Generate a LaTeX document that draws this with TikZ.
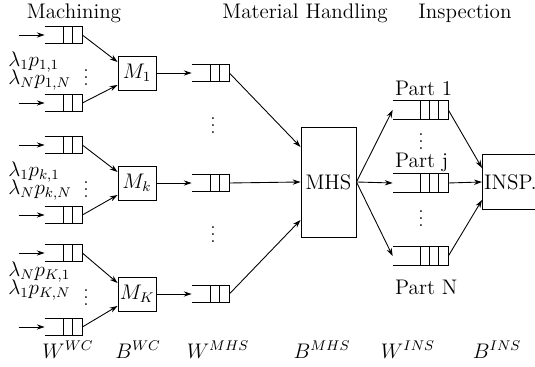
\documentclass[tikz,border=0pt]{standalone}
\usepackage{amsmath,amssymb}
\usetikzlibrary{arrows.meta,positioning}

\begin{document}
\begin{tikzpicture}[every node/.style={font=\large},
  arr/.style={-{Stealth[length=4.5pt,width=3pt]},line width=.5pt},
  queue/.style={inner sep=0pt,minimum width=0.74cm,minimum height=0.32cm},
  queuewide/.style={inner sep=0pt,minimum width=1.10cm,minimum height=0.36cm},
  station/.style={draw,line width=.5pt,inner sep=1pt,minimum width=0.76cm,minimum height=0.68cm},
  dots/.style={font=\normalsize,inner sep=0pt}]
\useasboundingbox (0,0) rectangle (10.70,7.34);
% headers
\node (hmach) at (1.48,7.08) {Machining};
\node (hmhs) at (6.10,7.08) {Material Handling};
\node (hins) at (9.30,7.08) {Inspection};
% machining buffers
\node[queue] (w11) at (1.27,6.64) {};
\node[queue] (w1N) at (1.27,5.28) {};
\node[queue] (wk1) at (1.27,4.44) {};
\node[queue] (wkN) at (1.27,3.04) {};
\node[queue] (wK1) at (1.27,2.28) {};
\node[queue] (wKN) at (1.27,0.80) {};
\node[anchor=west,inner sep=0pt] (l11) at (0.16,6.10) {$\lambda_1 p_{1,1}$};
\node[anchor=west,inner sep=0pt] (l1N) at (0.16,5.74) {$\lambda_N p_{1,N}$};
\node[anchor=west,inner sep=0pt] (lk1) at (0.16,3.90) {$\lambda_1 p_{k,1}$};
\node[anchor=west,inner sep=0pt] (lkN) at (0.16,3.54) {$\lambda_N p_{k,N}$};
\node[anchor=west,inner sep=0pt] (lK1) at (0.16,1.90) {$\lambda_N p_{K,1}$};
\node[anchor=west,inner sep=0pt] (lKN) at (0.16,1.54) {$\lambda_1 p_{K,N}$};
\node[dots] (d1) at (1.72,5.90) {$\vdots$};
\node[dots] (dk) at (1.72,3.66) {$\vdots$};
\node[dots] (dK) at (1.72,1.50) {$\vdots$};
% machines
\node[station] (M1) at (2.74,5.88) {$M_1$};
\node[station] (Mk) at (2.74,3.68) {$M_k$};
\node[station] (MK) at (2.74,1.46) {$M_K$};
% material handling buffers
\node[queue] (m1) at (4.21,5.88) {};
\node[queue] (mk) at (4.21,3.68) {};
\node[queue] (mK) at (4.21,1.46) {};
\node[dots] (dm1) at (4.26,4.94) {$\vdots$};
\node[dots] (dm2) at (4.26,2.76) {$\vdots$};
\node[draw,line width=.5pt,minimum width=1.10cm,minimum height=2.20cm,inner sep=1pt] (MHS) at (6.57,3.70) {MHS};
% inspection buffers
\node[queuewide] (p1) at (8.41,5.14) {};
\node[queuewide] (pj) at (8.41,3.68) {};
\node[queuewide] (pN) at (8.41,2.22) {};
\node[anchor=west] (t1) at (7.78,5.58) {Part 1};
\node[anchor=west] (tj) at (7.78,4.10) {Part j};
\node[anchor=west] (tN) at (7.78,1.60) {Part N};
\node[dots] (dp1) at (8.42,4.62) {$\vdots$};
\node[dots] (dp2) at (8.42,3.08) {$\vdots$};
\node[draw,line width=.5pt,anchor=west,minimum height=1.10cm,inner xsep=1pt,text width=1.4cm,align=left] (INSP) at (9.64,3.70) {INSP.};
% bottom labels
\node (lwwc) at (1.36,0.34) {$W^{WC}$};
\node (lbwc) at (2.76,0.34) {$B^{WC}$};
\node (lwmhs) at (4.36,0.34) {$W^{MHS}$};
\node (lbmhs) at (6.44,0.34) {$B^{MHS}$};
\node (lwins) at (8.16,0.34) {$W^{INS}$};
\node (lbins) at (9.94,0.34) {$B^{INS}$};
% queue outlines
\foreach \q in {w11,w1N,wk1,wkN,wK1,wKN,m1,mk,mK}
  \draw[line width=.5pt] (\q.north west) -- (\q.north east) -- (\q.south east) -- (\q.south west)
    ([xshift=-0.19cm]\q.north east) -- ([xshift=-0.19cm]\q.south east)
    ([xshift=-0.38cm]\q.north east) -- ([xshift=-0.38cm]\q.south east);
\foreach \q in {p1,pj,pN}
  \draw[line width=.5pt] (\q.north west) -- (\q.north east) -- (\q.south east) -- (\q.south west)
    ([xshift=-0.20cm]\q.north east) -- ([xshift=-0.20cm]\q.south east)
    ([xshift=-0.38cm]\q.north east) -- ([xshift=-0.38cm]\q.south east)
    ([xshift=-0.56cm]\q.north east) -- ([xshift=-0.56cm]\q.south east);
% arrivals
\foreach \q in {w11,w1N,wk1,wkN,wK1,wKN} {
  \coordinate[left=0.52cm of \q.west] (\q-in);
  \draw[arr] (\q-in) -- (\q.west);
}
% connectors
\draw[arr] (w11.east) -- ([yshift=0.22cm]M1.west);
\draw[arr] (w1N.east) -- ([yshift=-0.24cm]M1.west);
\draw[arr] (wk1.east) -- ([yshift=0.22cm]Mk.west);
\draw[arr] (wkN.east) -- ([yshift=-0.24cm]Mk.west);
\draw[arr] (wK1.east) -- ([yshift=0.22cm]MK.west);
\draw[arr] (wKN.east) -- ([yshift=-0.24cm]MK.west);
\draw[arr] (M1.east) -- (m1.west);
\draw[arr] (Mk.east) -- (mk.west);
\draw[arr] (MK.east) -- (mK.west);
\draw[arr] (m1.east) -- ([yshift=0.70cm]MHS.west);
\draw[arr] (mk.east) -- (MHS.west);
\draw[arr] (mK.east) -- ([yshift=-0.76cm]MHS.west);
\draw[arr] (MHS.east) -- (p1.west);
\draw[arr] (MHS.east) -- (pj.west);
\draw[arr] (MHS.east) -- (pN.west);
\draw[arr] (p1.east) -- ([yshift=0.28cm]INSP.west);
\draw[arr] (pj.east) -- (INSP.west);
\draw[arr] (pN.east) -- ([yshift=-0.36cm]INSP.west);
\end{tikzpicture}
\end{document}
